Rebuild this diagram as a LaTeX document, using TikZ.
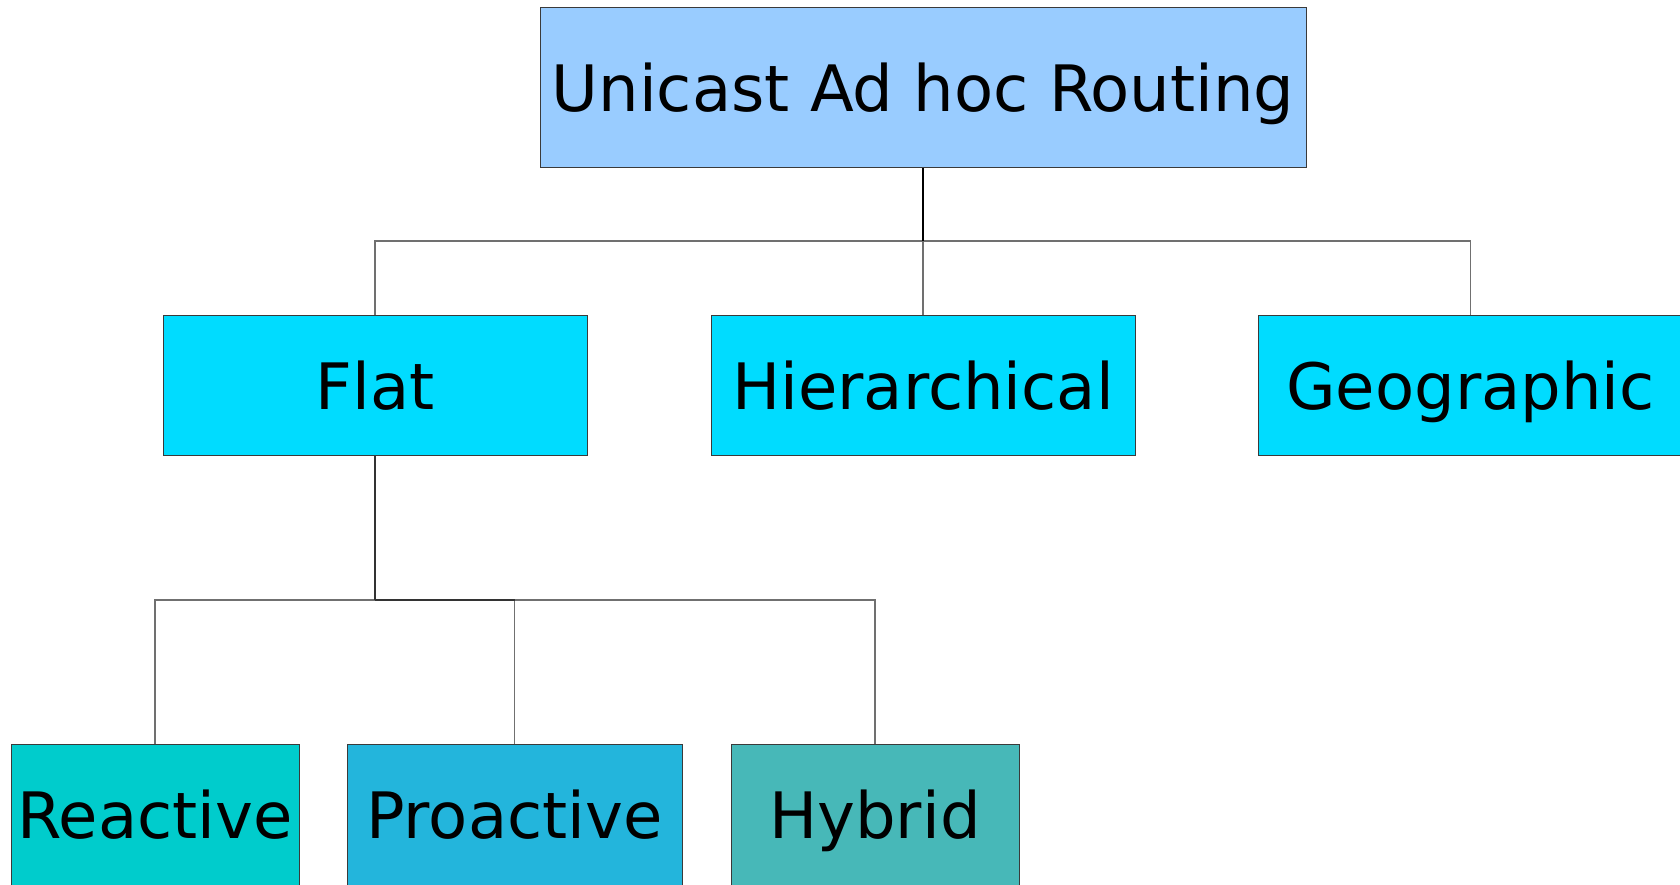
\documentclass[tikz,border=0pt]{standalone}
\usepackage{fontspec}
\setmainfont{DejaVu Sans}
\definecolor{topc}{HTML}{99CCFF}
\definecolor{midc}{HTML}{00DCFF}
\definecolor{reac}{HTML}{00CCCC}
\definecolor{proc}{HTML}{23B5DC}
\definecolor{hybc}{HTML}{47B8B8}
\definecolor{linec}{HTML}{707070}
\definecolor{borderc}{HTML}{3A3A3A}
\begin{document}
\begin{tikzpicture}[x=1pt,y=-1pt,
  box/.style={draw=borderc,line width=1pt,rectangle,inner sep=0pt,
    font=\fontsize{64}{77}\selectfont,text height=47pt,text depth=0pt},
  gline/.style={draw=linec,line width=1.3pt},
  kline/.style={draw=black,line width=2pt},
  dline/.style={draw=black!80,line width=1.6pt}]
\useasboundingbox (0,0) rectangle (1680,884);
\node[box,fill=topc,minimum width=766pt,minimum height=160pt] (top) at (923,87.5) {Unicast Ad hoc Routing};
\node[box,fill=midc,minimum width=424pt,minimum height=140pt] (flat) at (375,385.5) {Flat};
\node[box,fill=midc,minimum width=424pt,minimum height=140pt] (hier) at (923,385.5) {Hierarchical};
\node[box,fill=midc,minimum width=424pt,minimum height=140pt] (geo) at (1470.5,385.5) {Geographic};
\node[box,fill=reac,minimum width=288pt,minimum height=142pt] (rea) at (155,815) {Reactive};
\node[box,fill=proc,minimum width=335pt,minimum height=142pt] (pro) at (514.5,815) {Proactive};
\node[box,fill=hybc,minimum width=288pt,minimum height=142pt] (hyb) at (875,815) {Hybrid};
\coordinate (b1) at (923,241);
\coordinate (b2) at (375,600);
\draw[gline] (flat.north) |- (b1) -| (geo.north);
\draw[gline] (b1) -- (hier.north);
\draw[kline] (top.south) -- (b1);
\draw[gline] (rea.north) |- (b2) -| (hyb.north);
\draw[gline] (b2 -| pro.north) -- (pro.north);
\draw[dline] (b2) -- (b2 -| pro.north);
\draw[dline] (flat.south) -- (b2);
\end{tikzpicture}
\end{document}
